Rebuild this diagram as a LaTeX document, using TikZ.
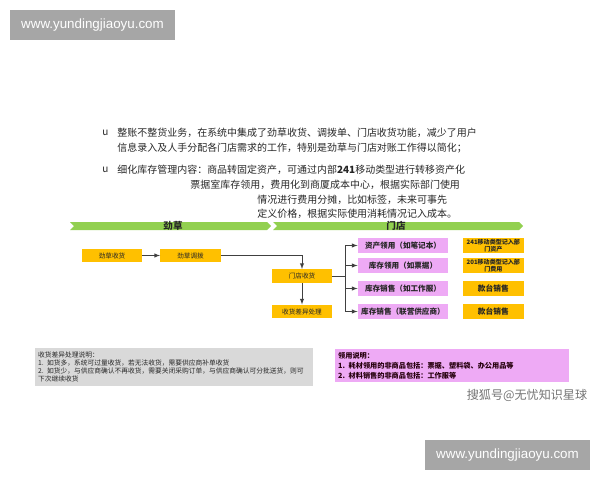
\documentclass[tikz,border=0pt]{standalone}
\usepackage{fontspec}
\setmainfont{Liberation Sans}
\newfontfamily\cjk{Noto Sans CJK SC}
\usetikzlibrary{arrows,positioning}
\usepackage{xcolor}
\definecolor{gold}{HTML}{FFC000}
\definecolor{lilac}{HTML}{EEAAF5}
\definecolor{leaf}{HTML}{92D050}
\definecolor{stamp}{HTML}{A6A6A6}
\definecolor{note}{HTML}{D9D9D9}
\definecolor{ink}{HTML}{262626}
\definecolor{wire}{HTML}{404040}

\begin{document}
\begin{tikzpicture}[x=0.025cm,y=-0.025cm,>=latex,line width=0.2mm]
  \tikzstyle{body} = [anchor=west,inner sep=0pt,text=ink,font=\cjk\fontsize{7.1}{8.5}\selectfont]
  \tikzstyle{banner} = [inner sep=0pt,text=black!85,font=\cjk\bfseries\fontsize{6.8}{7}\selectfont]
  \tikzstyle{yellow box} = [fill=gold,minimum width=1.5cm,minimum height=0.33cm,inner sep=0pt,text=ink,font=\cjk\fontsize{4.7}{5}\selectfont]
  \tikzstyle{pink box} = [fill=lilac,minimum width=2.25cm,minimum height=0.375cm,inner sep=0pt,text=ink,font=\cjk\bfseries\fontsize{5.4}{6}\selectfont]
  \tikzstyle{tag box} = [fill=gold,minimum width=1.525cm,minimum height=0.375cm,inner sep=0pt,align=center,text=ink,font=\cjk\bfseries\fontsize{4.3}{5.2}\selectfont]
  \tikzstyle{flow} = [draw=wire,line width=0.15mm]
  \tikzstyle{stamp box} = [fill=stamp,minimum width=4.125cm,minimum height=0.75cm,text=white,font=\fontsize{9.5}{10}\selectfont]
  \useasboundingbox (0,0) rectangle (600,480);

  \node[stamp box] (site top) at (92.5,25) {www.yundingjiaoyu.com};
  \node[stamp box] (site bottom) at (507.5,455) {www.yundingjiaoyu.com};

  % text block
  \node[body] (dot1) at (102,133) {u};
  \node[body] (line1) at (117,133) {整账不整货业务，在系统中集成了劲草收货、调拨单、门店收货功能，减少了用户};
  \node[body] (line2) at (117,148) {信息录入及人手分配各门店需求的工作，特别是劲草与门店对账工作得以简化；};
  \node[body] (dot2) at (102,170) {u};
  \node[body] (line3) at (117,170) {细化库存管理内容：商品转固定资产，可通过内部{\bfseries 241}移动类型进行转移资产化};
  \node[body] (line4) at (190,185) {票据室库存领用，费用化到商厦成本中心，根据实际部门使用};
  \node[body] (line5) at (257,200) {情况进行费用分摊，比如标签，未来可事先};
  \node[body] (line6) at (257,214) {定义价格，根据实际使用消耗情况记入成本。};

  % banner
  \fill[leaf] (70,222) -- (267,222) -- (271,226) -- (267,230) -- (70,230) -- (74,226) -- cycle;
  \fill[leaf] (273,222) -- (519,222) -- (523,226) -- (519,230) -- (273,230) -- (277,226) -- cycle;
  \node[banner] (jc) at (173,226) {劲草};
  \node[banner] (md) at (396,226) {门店};

  \node[yellow box] (jcsh) at (112,255.5) {劲草收货};
  \node[yellow box] (jcdb) at (190.5,255.5) {劲草调拨};
  \node[yellow box] (mdsh) at (302,276) {门店收货};
  \node[yellow box] (cycl) at (302,311.5) {收货差异处理};
  \coordinate (hub) at (345,276);

  \node[pink box] (zcly) at (403,245.5) {资产领用（如笔记本）};
  \node[pink box] (kcly) at (403,265.5) {库存领用（如票据）};
  \node[pink box] (kcxs) at (403,288.5) {库存销售（如工作服）};
  \node[pink box] (lygy) at (403,311.5) {库存销售（联营供应商）};

  \node[tag box] (zcjl) [right=0.35cm of zcly] {241移动类型记入部\\门资产};
  \node[tag box] (fyjl) [right=0.35cm of kcly] {201移动类型记入部\\门费用};
  \node[tag box,font=\cjk\bfseries\fontsize{5.5}{6}\selectfont] (kt1) [right=0.35cm of kcxs] {款台销售};
  \node[tag box,font=\cjk\bfseries\fontsize{5.5}{6}\selectfont] (kt2) [right=0.35cm of lygy] {款台销售};

  \path[flow,->] (jcsh) -- (jcdb);
  \path[flow,->] (jcdb) -| (mdsh);
  \path[flow,->] (mdsh) -- (cycl);
  \path[flow] (mdsh) -- (hub);
  \path[flow,->] (hub) |- (zcly);
  \path[flow,->] (hub) |- (kcly);
  \path[flow,->] (hub) |- (kcxs);
  \path[flow,->] (hub) |- (lygy);

  % notes
  \node[fill=note,anchor=north west,minimum width=6.9cm,minimum height=0.95cm,inner sep=2pt,text width=6.8cm,align=left,text=ink,font=\cjk\fontsize{4.8}{5.7}\selectfont] (diff note) at (35,348)
    {收货差异处理说明：\\1. 如货多，系统可过量收货，若无法收货，需要供应商补单收货\\2. 如货少，与供应商确认不再收货，需要关闭采购订单，与供应商确认可分批送货，则可\\下次继续收货};
  \node[fill=lilac,anchor=north west,minimum width=5.825cm,minimum height=0.775cm,inner sep=2pt,text width=5.7cm,align=left,text=black!80!purple,font=\cjk\bfseries\fontsize{5.1}{7}\selectfont] (use note) at (335,349)
    {领用说明：\\1. 耗材领用的非商品包括：票据、塑料袋、办公用品等\\2. 材料销售的非商品包括：工作服等};

  \node[text=black!55,font=\cjk\fontsize{8.6}{10}\selectfont] (sohu) at (527,395) {搜狐号@无忧知识星球};
\end{tikzpicture}
\end{document}
